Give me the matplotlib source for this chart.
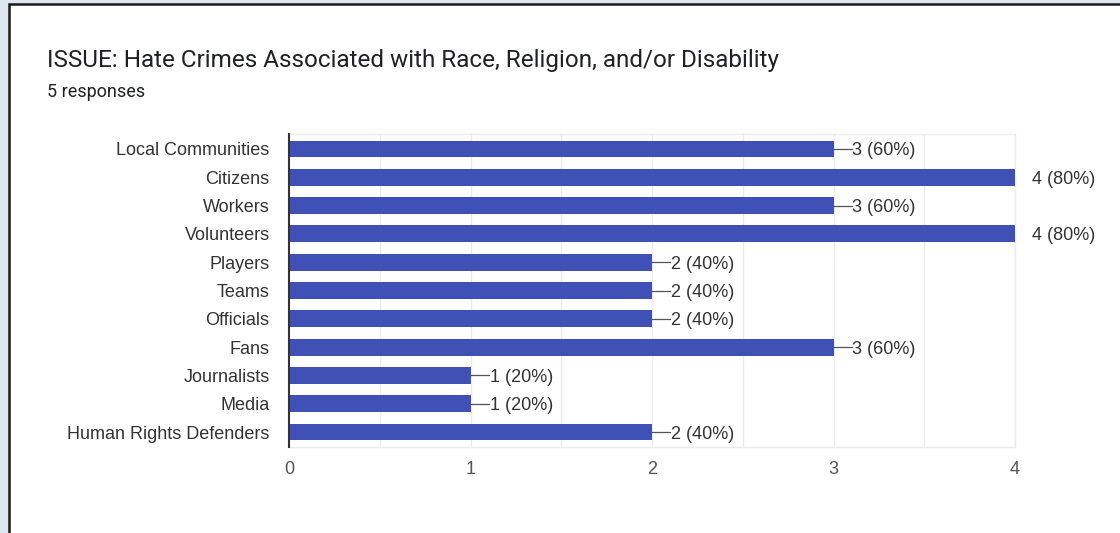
import matplotlib
matplotlib.use("Agg")
import matplotlib.pyplot as plt
from matplotlib.patches import Rectangle
from matplotlib.lines import Line2D

categories = ["Local Communities", "Citizens", "Workers", "Volunteers", "Players",
              "Teams", "Officials", "Fans", "Journalists", "Media",
              "Human Rights Defenders"]
counts = [3, 4, 3, 4, 2, 2, 2, 3, 1, 1, 2]
total_responses = 5
x_ticks = [0, 1, 2, 3, 4]
title = "ISSUE: Hate Crimes Associated with Race, Religion, and/or Disability"
subtitle = f"{total_responses} responses"

plt.rcParams["font.family"] = ["Liberation Sans", "DejaVu Sans"]

W, H = 1120, 533
fig = plt.figure(figsize=(W / 100, H / 100), dpi=100)
fig.patch.set_facecolor("#dde6f1")

# white card with dark outline
card = Rectangle((9 / W, -0.1), 1.2, 1.1 - 4.5 / H, transform=fig.transFigure,
                 facecolor="white", edgecolor="#1a1a1a", linewidth=1.8, zorder=-10)
fig.add_artist(card)

fig.text(47 / W, 1 - 60 / H, title, fontsize=17.5, color="#202124",
         family=["Roboto", "DejaVu Sans"], va="center", ha="left")
fig.text(47 / W, 1 - 92 / H, subtitle, fontsize=13, color="#202124",
         family=["Roboto", "DejaVu Sans"], va="center", ha="left")

ax = fig.add_axes([289 / W, 1 - 447 / H, (1015 - 289) / W, (447 - 134) / H])
ax.set_facecolor("none")
ax.set_zorder(1)

bar_color = "#3f51b5"
ypos = list(range(len(categories)))
ax.barh(ypos, counts, height=0.6, color=bar_color, zorder=3)

xmax = max(x_ticks)
ax.set_xlim(0, xmax)
ax.set_ylim(len(categories) - 0.47, -0.53)

# light grid at half-unit steps
for g in [i * 0.5 for i in range(1, 2 * xmax + 1)]:
    ax.axvline(g, color="#ebebeb", linewidth=1, zorder=1)

ax.set_xticks(x_ticks)
ax.set_xticklabels([str(t) for t in x_ticks])
ax.set_yticks(ypos)
ax.set_yticklabels(categories, va="center_baseline")
ax.tick_params(axis="y", length=0, pad=14, labelsize=13, labelcolor="#333333")
ax.tick_params(axis="x", length=0, pad=10, labelsize=13, labelcolor="#555555")

for side in ["top", "right", "bottom"]:
    ax.spines[side].set_color("#ebebeb")
    ax.spines[side].set_linewidth(1)
ax.spines["left"].set_color("#333333")
ax.spines["left"].set_linewidth(1.5)
ax.spines["left"].set_zorder(4)

# value annotations
px_per_unit = (1015 - 289) / xmax
for y, c in zip(ypos, counts):
    label = f"{c} ({c / total_responses:.0%})"
    if c >= xmax:
        ax.annotate(label, (c, y), xytext=(17, 0), textcoords="offset pixels",
                    va="center_baseline", ha="left", fontsize=13, color="#333333",
                    annotation_clip=False)
    else:
        ax.add_line(Line2D([c, c + 18 / px_per_unit], [y, y], color="#555555",
                           linewidth=0.9, zorder=3))
        ax.annotate(label, (c, y), xytext=(19, 0), textcoords="offset pixels",
                    va="center_baseline", ha="left", fontsize=13, color="#333333")

fig.savefig("out.png", dpi=100, facecolor=fig.get_facecolor())
